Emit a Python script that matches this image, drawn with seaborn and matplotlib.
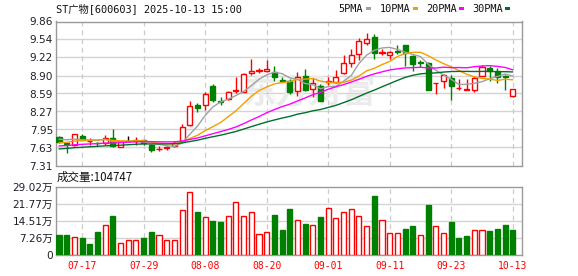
import numpy as np
import pandas as pd
import matplotlib
matplotlib.use('Agg')
import matplotlib.pyplot as plt
import seaborn as sns
from matplotlib.patches import Rectangle

# ---------------- data ----------------
dates = ['07-14', '07-15', '07-16', '07-17', '07-18', '07-21', '07-22', '07-23', '07-24', '07-25',
         '07-28', '07-29', '07-30', '07-31', '08-01', '08-04', '08-05', '08-06', '08-07', '08-08',
         '08-11', '08-12', '08-13', '08-14', '08-15', '08-18', '08-19', '08-20', '08-21', '08-22',
         '08-25', '08-26', '08-27', '08-28', '08-29', '09-01', '09-02', '09-03', '09-04', '09-05',
         '09-08', '09-09', '09-10', '09-11', '09-12', '09-15', '09-16', '09-17', '09-18', '09-19',
         '09-22', '09-23', '09-24', '09-25', '09-26', '09-29', '09-30', '10-09', '10-10', '10-13']

open_ = [7.82, 7.70, 7.67, 7.83, 7.74, 7.71, 7.71, 7.80, 7.64, 7.75,
         7.75, 7.76, 7.68, 7.60, 7.62, 7.66, 7.75, 8.02, 8.38, 8.375,
         8.72, 8.46, 8.48, 8.63, 8.62, 8.94, 8.99, 8.99, 8.965, 8.82,
         8.80, 8.635, 8.89, 8.67, 8.715, 8.79, 8.79, 8.945, 9.125, 9.28,
         9.48, 9.585, 9.31, 9.27, 9.33, 9.44, 9.255, 9.14, 9.125, 8.765,
         8.81, 8.86, 8.675, 8.655, 8.65, 8.89, 9.035, 8.99, 8.89, 8.545]
high = [7.83, 7.73, 7.86, 7.87, 7.80, 7.73, 7.85, 7.95, 7.75, 7.83,
        7.82, 7.77, 7.69, 7.65, 7.66, 7.74, 8.04, 8.45, 8.42, 8.62,
        8.75, 8.52, 8.635, 8.88, 8.94, 9.19, 9.035, 9.18, 9.065, 8.875,
        8.84, 8.965, 9.02, 8.86, 8.75, 8.875, 9.005, 9.26, 9.37, 9.565,
        9.655, 9.635, 9.37, 9.34, 9.45, 9.44, 9.27, 9.18, 9.14, 8.77,
        8.93, 8.905, 8.845, 8.84, 8.89, 9.09, 9.065, 9.045, 8.905, 8.665]
low = [7.70, 7.54, 7.66, 7.76, 7.68, 7.65, 7.68, 7.64, 7.63, 7.75,
       7.68, 7.68, 7.55, 7.57, 7.59, 7.64, 7.74, 8.01, 8.25, 8.30,
       8.43, 8.375, 8.47, 8.59, 8.62, 8.905, 8.95, 8.96, 8.81, 8.79,
       8.575, 8.545, 8.635, 8.515, 8.45, 8.74, 8.77, 8.93, 9.05, 9.18,
       9.45, 9.19, 9.27, 9.20, 9.28, 9.065, 8.99, 9.05, 8.65, 8.58,
       8.685, 8.47, 8.64, 8.65, 8.62, 8.89, 8.80, 8.77, 8.65, 8.52]
close = [7.73, 7.69, 7.86, 7.76, 7.75, 7.70, 7.80, 7.65, 7.745, 7.75,
         7.77, 7.71, 7.58, 7.61, 7.63, 7.71, 8.00, 8.36, 8.33, 8.575,
         8.47, 8.44, 8.61, 8.65, 8.93, 8.99, 9.00, 9.01, 8.875, 8.81,
         8.61, 8.87, 8.65, 8.765, 8.455, 8.80, 8.88, 9.12, 9.26, 9.52,
         9.545, 9.31, 9.32, 9.32, 9.325, 9.31, 9.11, 9.13, 8.65, 8.77,
         8.905, 8.72, 8.68, 8.66, 8.86, 9.05, 8.99, 8.87, 8.88, 8.665]

# closes of the 29 sessions before the window (estimated from where the MA lines start)
prior_close = [7.45, 7.48, 7.52, 7.50, 7.47, 7.51, 7.55, 7.53, 7.49, 7.50,
               7.56, 7.60, 7.58, 7.62, 7.59, 7.61, 7.63, 7.60, 7.58, 7.63,
               7.62, 7.64, 7.66, 7.65, 7.68, 7.74, 7.80, 7.82, 7.79]

# volume in 万手, and whether the bar is drawn as "up" (red hollow)
volume = [8.49, 8.49, 7.50, 7.07, 4.67, 9.76, 13.0, 16.5, 4.95, 6.22,
          6.22, 7.07, 9.76, 8.35, 6.22, 6.22, 19.4, 27.0, 18.2, 16.4,
          14.4, 14.0, 16.8, 22.8, 16.8, 18.5, 8.77, 10.0, 17.0, 10.6,
          19.5, 15.1, 13.2, 12.6, 16.1, 20.2, 16.0, 18.5, 19.8, 16.8,
          12.2, 25.0, 15.1, 9.34, 9.34, 11.0, 12.3, 8.35, 21.2, 12.3,
          9.34, 14.0, 7.21, 8.06, 10.6, 10.6, 10.2, 11.0, 12.7, 10.47]
vol_up = [0, 0, 1, 0, 0, 0, 1, 0, 1, 1,
          1, 0, 0, 1, 1, 1, 1, 1, 0, 1,
          0, 0, 1, 1, 1, 1, 1, 1, 0, 0,
          0, 1, 0, 1, 0, 1, 1, 1, 1, 1,
          1, 0, 1, 1, 1, 0, 0, 1, 0, 1,
          1, 0, 0, 0, 1, 1, 0, 0, 0, 0]

ma_windows = [5, 10, 20, 30]
ma_names = ['5PMA', '10PMA', '20PMA', '30PMA']
ma_colors = ['#a0a0a0', '#f0a000', '#ff00ff', '#00702e']

price_ticks = [7.31 + k * (9.86 - 7.31) / 8 for k in range(9)]
price_ticklabels = ['7.31', '7.63', '7.95', '8.27', '8.59', '8.90', '9.22', '9.54', '9.86']
vol_ticks = [0, 7.255, 14.51, 21.765, 29.02]
vol_ticklabels = ['0', '7.26万', '14.51万', '21.77万', '29.02万']
date_ticks = ['07-17', '07-29', '08-08', '08-20', '09-01', '09-11', '09-23', '10-13']

title = 'ST广物[600603] 2025-10-13 15:00'
vol_title = '成交量:104747'

# ---------------- style ----------------
RED = '#ff0000'
GREEN = '#008000'
GRID = '#d4d4d4'
SPINE = '#999999'

sns.set_theme(style='white')
plt.rcParams['font.family'] = ['DejaVu Sans', 'Noto Sans CJK SC']

W, H = 578, 276
fig = plt.figure(figsize=(W / 100, H / 100), dpi=100)
fig.patch.set_facecolor('white')


def rect(l, t, r, b):
    return [l / W, 1 - b / H, (r - l) / W, (b - t) / H]


ax = fig.add_axes(rect(56, 21.5, 522, 165.5))
axv = fig.add_axes(rect(56, 187, 522, 255))

df = pd.DataFrame({'date': dates, 'open': open_, 'high': high, 'low': low,
                   'close': close, 'volume': volume, 'vol_up': vol_up})
df['x'] = np.arange(len(df))
n = len(df)

# moving averages
full_close = pd.Series(prior_close + close)
ma_frames = []
for w, name in zip(ma_windows, ma_names):
    ma = full_close.rolling(w).mean().iloc[-n:].to_numpy()
    ma_frames.append(pd.DataFrame({'x': df['x'], 'value': ma, 'ma': name}))
ma_long = pd.concat(ma_frames, ignore_index=True)

xlim = (-0.39, 60.2)
date_pos = [dates.index(d) for d in date_ticks]

for a in (ax, axv):
    a.set_facecolor('white')
    a.set_xlim(*xlim)
    for s in a.spines.values():
        s.set_color(SPINE)
        s.set_linewidth(1.0)
    for xp in date_pos:
        a.axvline(xp, color='#cccccc', lw=0.9, ls=(0, (4, 3)), zorder=0.5)

# price grid
ax.set_ylim(price_ticks[0], price_ticks[-1])
for yv in price_ticks[1:-1]:
    ax.axhline(yv, color=GRID, lw=1, zorder=0.4)

# watermark
ax.text(309 / W, 1 - 94 / H, '东方财富', transform=fig.transFigure, fontsize=24,
        color='#ebebeb', ha='center', va='center', family=['Noto Sans CJK SC'],
        weight='bold', style='italic', zorder=0.6)

# candles
up = df['close'] > df['open']
down = df['close'] < df['open']
ccol = np.where(up, RED, np.where(down, GREEN, '#000000'))
fcol = np.where(up, 'white', ccol)
ax.vlines(df['x'], df['low'], df['high'], colors=ccol, lw=1, zorder=2)
body_bottom = np.minimum(df['open'], df['close'])
body_h = np.abs(df['close'] - df['open'])
ax.bar(df['x'], body_h, bottom=body_bottom, width=0.66, color=fcol,
       edgecolor=ccol, linewidth=1, zorder=3)

sns.lineplot(data=ma_long, x='x', y='value', hue='ma', palette=dict(zip(ma_names, ma_colors)),
             ax=ax, legend=False, linewidth=1, zorder=4)
ax.set_xlim(*xlim)
ax.set_xlabel('')
ax.set_ylabel('')

ax.set_yticks(price_ticks)
ax.set_yticklabels(price_ticklabels)
ax.set_xticks([])
ax.tick_params(axis='y', length=0, pad=2.2, labelsize=7.6, labelcolor='#1e1e28')

# volume
vcol_edge = np.where(df['vol_up'] == 1, RED, GREEN)
vcol_face = np.where(df['vol_up'] == 1, 'white', GREEN)
axv.bar(df['x'], df['volume'], width=0.66, color=vcol_face, edgecolor=vcol_edge,
        linewidth=1, zorder=3)
axv.set_ylim(0, vol_ticks[-1])
for yv in vol_ticks[1:-1]:
    axv.axhline(yv, color=GRID, lw=1, zorder=0.4)
axv.set_yticks(vol_ticks)
axv.set_yticklabels(vol_ticklabels)
axv.tick_params(axis='y', length=0, pad=2.2, labelsize=7.6, labelcolor='#1e1e28')
axv.set_xticks(date_pos)
axv.set_xticklabels(date_ticks, family='DejaVu Sans Mono', fontsize=7, color=RED)
axv.tick_params(axis='x', length=0, pad=4.5)

# texts
fig.text(56 / W, 1 - 8.5 / H, title, family=['DejaVu Sans Mono', 'Noto Sans CJK SC'],
         fontsize=7.4, color='#111111', ha='left', va='center')
fig.text(57 / W, 1 - 177 / H, vol_title, family=['Noto Sans CJK SC'],
         fontsize=8.3, color='#111111', ha='left', va='center')

legend_text_x = [338, 380, 426, 472]
legend_box_x = [366, 413, 459, 505]
for name, col, tx, bx in zip(ma_names, ma_colors, legend_text_x, legend_box_x):
    fig.text(tx / W, 1 - 8.5 / H, name, family='DejaVu Sans Mono', fontsize=7.4,
             color='#111111', ha='left', va='center')
    fig.add_artist(Rectangle((bx / W, 1 - 10 / H), 5 / W, 3 / H, transform=fig.transFigure,
                             facecolor=col, edgecolor='none'))

fig.savefig('out.png', dpi=100, facecolor='white')
